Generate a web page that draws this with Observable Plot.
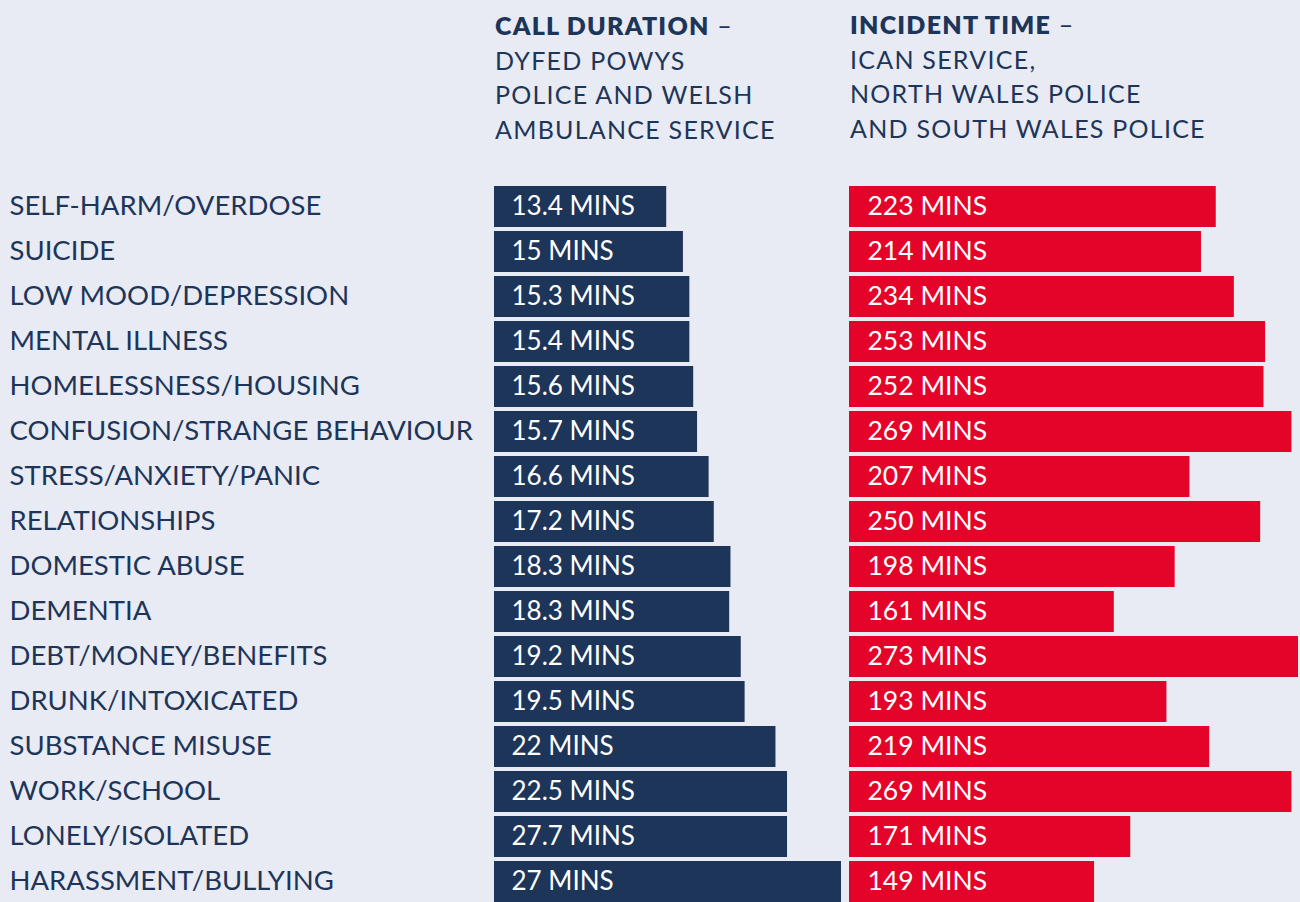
<!DOCTYPE html>
<html><head><meta charset="utf-8">
<script src="https://cdn.jsdelivr.net/npm/d3@7"></script>
<script src="https://cdn.jsdelivr.net/npm/@observablehq/plot@0.6"></script>
<style>
html,body{margin:0;padding:0;background:#e8ebf3;}
#wrap{position:relative;width:1300px;height:902px;overflow:hidden;font-family:Lato,sans-serif;color:#1e355a;}
#wrap svg{position:absolute;left:0;top:0;}
.head{position:absolute;font-size:25px;line-height:34.5px;letter-spacing:1.25px;white-space:nowrap;}
.head b{font-weight:800;}
</style>
</head><body>
<div id="wrap">
  <div class="head" id="h1" style="left:495px;top:8px;"></div>
  <div class="head" id="h2" style="left:850px;top:7px;"></div>
</div>
<script>
const categories = ["SELF-HARM/OVERDOSE","SUICIDE","LOW MOOD/DEPRESSION","MENTAL ILLNESS","HOMELESSNESS/HOUSING","CONFUSION/STRANGE BEHAVIOUR","STRESS/ANXIETY/PANIC","RELATIONSHIPS","DOMESTIC ABUSE","DEMENTIA","DEBT/MONEY/BENEFITS","DRUNK/INTOXICATED","SUBSTANCE MISUSE","WORK/SCHOOL","LONELY/ISOLATED","HARASSMENT/BULLYING"];
const callLabels = ["13.4","15","15.3","15.4","15.6","15.7","16.6","17.2","18.3","18.3","19.2","19.5","22","22.5","27.7","27"];
const callBarMins = [13.4,14.7,15.2,15.2,15.5,15.8,16.7,17.1,18.4,18.3,19.2,19.5,21.9,22.8,22.8,27.0];
const incidentMins = [223,214,234,253,252,269,207,250,198,161,273,193,219,269,171,149];
const unit = "MINS";
const heading1Bold = "CALL DURATION";
const heading1Lines = ["DYFED POWYS","POLICE AND WELSH","AMBULANCE SERVICE"];
const heading2Bold = "INCIDENT TIME";
const heading2Lines = ["ICAN SERVICE,","NORTH WALES POLICE","AND SOUTH WALES POLICE"];

const navy = "#1e355a", red = "#e4042a";
const callData = categories.map((c,i)=>({cat:c, bar:callBarMins[i], label:callLabels[i]+" "+unit}));
const incData = categories.map((c,i)=>({cat:c, bar:incidentMins[i], label:incidentMins[i]+" "+unit}));

const yScale = {domain:categories, range:[184.5,903.2], paddingInner:0.1, paddingOuter:0, axis:null};
const common = {width:1300, height:902, marginTop:0, marginBottom:0, marginLeft:0, marginRight:0,
  style:{background:"transparent", fontFamily:"Lato, sans-serif", overflow:"visible"}};

const left = Plot.plot({...common,
  x:{domain:[0,27], range:[494,841], axis:null},
  y:yScale,
  marks:[
    Plot.barX(callData,{x:"bar", y:"cat", fill:navy}),
    Plot.text(callData,{x:()=>0, y:"cat", text:"label", textAnchor:"start", dx:17, fill:"white", fontSize:26}),
    Plot.text(callData,{y:"cat", text:"cat", frameAnchor:"left", dx:9, dy:-1, textAnchor:"start", fill:navy, fontSize:27.5})
  ]});
const right = Plot.plot({...common,
  x:{domain:[0,273], range:[849,1298], axis:null},
  y:yScale,
  marks:[
    Plot.barX(incData,{x:"bar", y:"cat", fill:red}),
    Plot.text(incData,{x:()=>0, y:"cat", text:"label", textAnchor:"start", dx:18, fill:"white", fontSize:26.5})
  ]});
const wrap = document.getElementById("wrap");
wrap.appendChild(left); wrap.appendChild(right);
document.getElementById("h1").innerHTML = "<b>"+heading1Bold+"</b> –<br>"+heading1Lines.join("<br>");
document.getElementById("h2").innerHTML = "<b>"+heading2Bold+"</b> –<br>"+heading2Lines.join("<br>");
</script>
</body></html>
